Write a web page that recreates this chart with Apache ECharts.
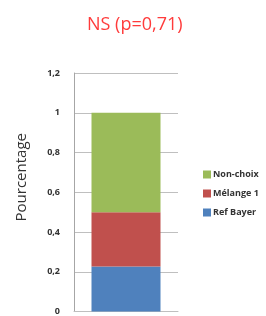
<!DOCTYPE html>
<html>
<head>
<meta charset="utf-8">
<script src="https://cdn.jsdelivr.net/npm/echarts@6/dist/echarts.min.js"></script>
<style>html,body{margin:0;padding:0;background:#fff}#c{width:266px;height:316px}</style>
</head>
<body>
<div id="c"></div>
<script>
var categories = [''];
var refBayer = [0.227];
var melange1 = [0.273];
var nonChoix = [0.5];
var yTicks = [0, 0.2, 0.4, 0.6, 0.8, 1, 1.2];

var chart = echarts.init(document.getElementById('c'), null, {renderer: 'canvas'});
var font = '"Open Sans", "Liberation Sans", sans-serif';
chart.setOption({
  animation: false,
  backgroundColor: '#fff',
  title: {
    text: 'NS (p=0,71)',
    left: 82, top: 11,
    textStyle: {color: '#ff3b3b', fontSize: 18, fontWeight: 'normal', fontFamily: font}
  },
  legend: {
    orient: 'vertical',
    left: 198, top: 165,
    itemWidth: 8, itemHeight: 8, itemGap: 10,
    icon: 'rect',
    data: ['Non-choix', 'Mélange 1', 'Ref Bayer'],
    textStyle: {fontSize: 9, fontWeight: 'bold', color: '#333', fontFamily: font, padding: [0,0,0,-3]}
  },
  grid: {left: 74, right: 88, top: 73, bottom: 4, containLabel: false},
  xAxis: {
    type: 'category',
    data: categories,
    axisLine: {show: true, lineStyle: {color: '#bfbfbf'}},
    axisTick: {show: false},
    axisLabel: {show: false}
  },
  yAxis: {
    type: 'value',
    min: 0, max: 1.2, interval: 0.2,
    name: 'Pourcentage',
    nameLocation: 'middle',
    nameGap: 45,
    nameTextStyle: {fontSize: 15, color: '#333', fontFamily: font, padding: [0, 0, 0, 30]},
    axisLine: {show: true, lineStyle: {color: '#a6a6a6'}},
    axisTick: {show: false},
    splitLine: {show: true, lineStyle: {color: '#bfbfbf'}},
    axisLabel: {
      margin: 14, fontSize: 9, fontWeight: 'bold', color: '#333', fontFamily: font,
      formatter: function (v) {
        var t = yTicks.filter(function (x) { return Math.abs(x - v) < 1e-9; })[0];
        return String(Math.round(t * 10) / 10).replace('.', ',');
      }
    }
  },
  series: [
    {name: 'Ref Bayer', type: 'bar', stack: 't', data: refBayer, barWidth: 69, itemStyle: {color: '#4f81bd'}},
    {name: 'Mélange 1', type: 'bar', stack: 't', data: melange1, barWidth: 69, itemStyle: {color: '#c0504d'}},
    {name: 'Non-choix', type: 'bar', stack: 't', data: nonChoix, barWidth: 69, itemStyle: {color: '#9bbb59'}}
  ]
});
</script>
</body>
</html>
